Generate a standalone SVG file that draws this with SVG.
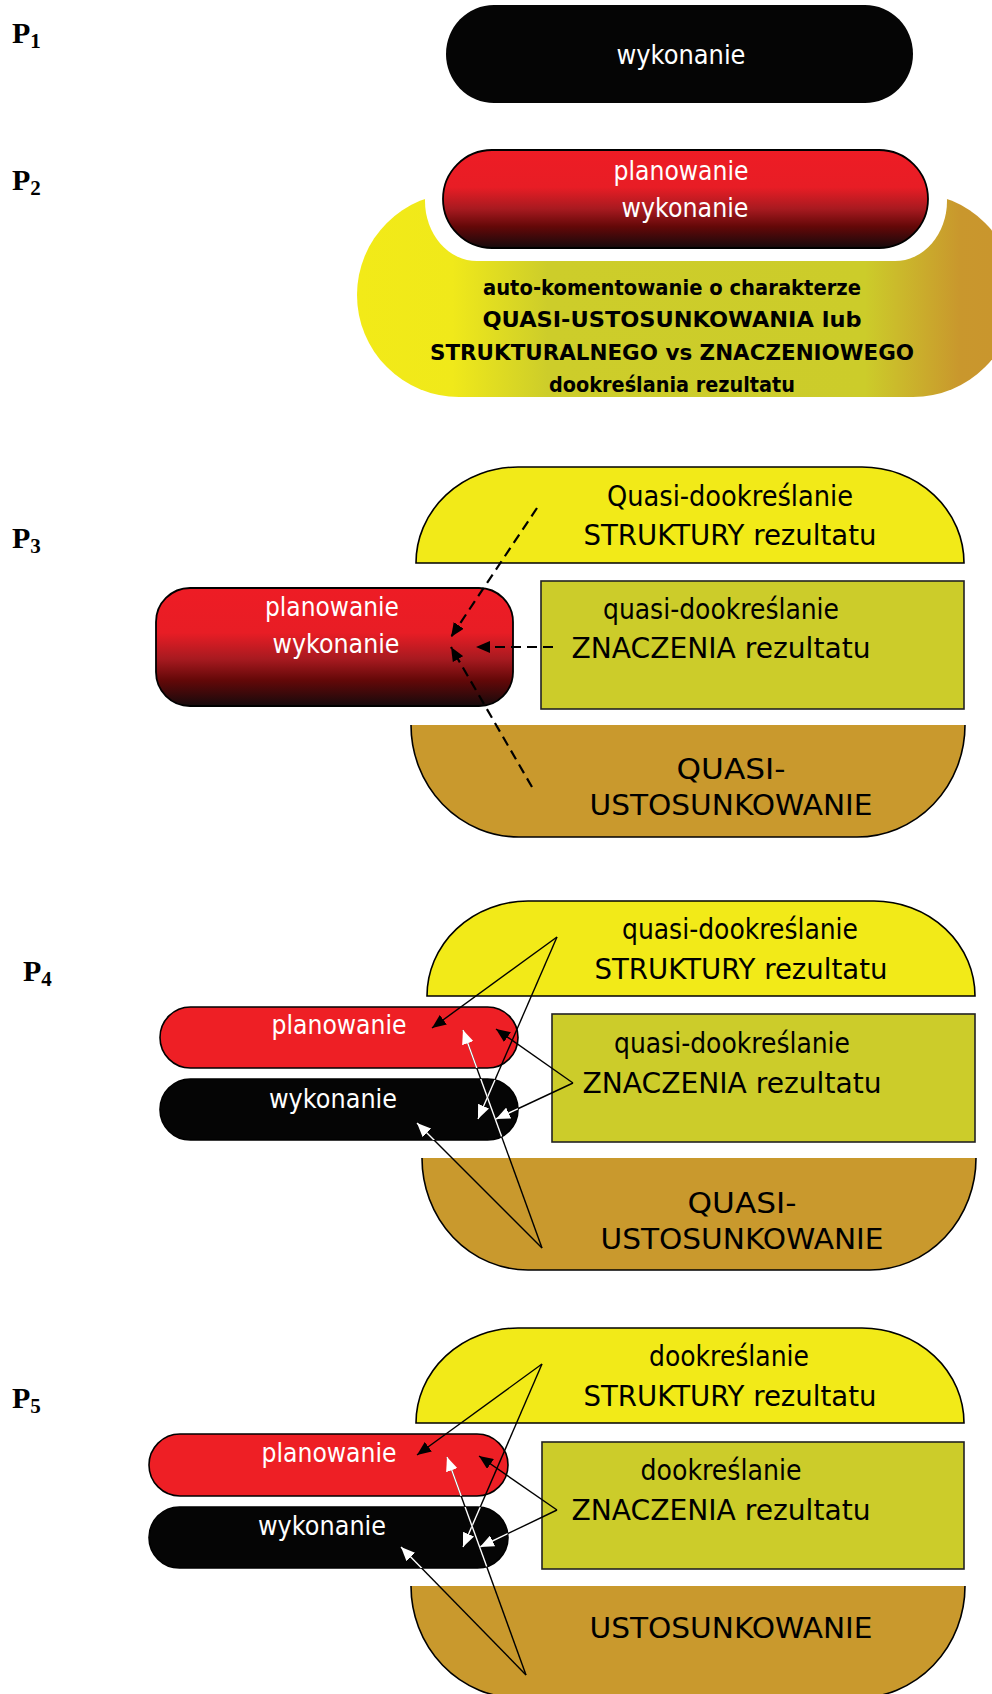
<svg xmlns="http://www.w3.org/2000/svg" width="992" height="1694" viewBox="0 0 992 1694">
  <style>
    .lbl { font-family: "Liberation Serif", "Times New Roman", serif; font-weight: bold; fill: #000; }
    .t { font-family: "DejaVu Sans", "Noto Sans", sans-serif; text-anchor: middle; }
    .tw { fill: #fff; font-size: 26px; }
    .tb { fill: #000; font-size: 28px; }
    .tbold { fill: #000; font-size: 21.5px; font-weight: bold; }
    .yel { fill: #f2ea18; stroke: #000; stroke-width: 1.6; }
    .olv { fill: #cccc2a; stroke: #222; stroke-width: 1.6; }
    .gld { fill: #c9992d; }
    .gldline { fill: none; stroke: #000; stroke-width: 1.6; }
    .redg { fill: url(#redFade); stroke: #000; stroke-width: 1.8; }
    .red { fill: #ee1f25; stroke: #000; stroke-width: 1.6; }
    .blk { fill: #050505; stroke: #000; stroke-width: 1.6; }
    .dash { fill: none; stroke: #000; stroke-width: 2.2; stroke-dasharray: 10 6; marker-end: url(#headBlack); }
    .ln { fill: none; stroke: #000; stroke-width: 1.4; }
    .lnw { fill: none; stroke: #fff; stroke-width: 1.4; }
    .hb { marker-end: url(#headBlack); }
    .hw { marker-end: url(#headWhite); }
  </style>
  <defs>
    <linearGradient id="redFade" x1="0" y1="0" x2="0" y2="1">
      <stop offset="0" stop-color="#ee1c25"/>
      <stop offset="0.38" stop-color="#e81d25"/>
      <stop offset="0.6" stop-color="#a81a20"/>
      <stop offset="0.78" stop-color="#640808"/>
      <stop offset="1" stop-color="#160a0c"/>
    </linearGradient>
    <linearGradient id="blobFade" gradientUnits="userSpaceOnUse" x1="357" y1="0" x2="992" y2="0">
      <stop offset="0" stop-color="#f2ea18"/>
      <stop offset="0.15" stop-color="#f0e91a"/>
      <stop offset="0.3" stop-color="#cdcd2a"/>
      <stop offset="0.8" stop-color="#cccc2a"/>
      <stop offset="0.95" stop-color="#c9972d"/>
      <stop offset="1" stop-color="#c9962d"/>
    </linearGradient>
    <marker id="headBlack" markerUnits="userSpaceOnUse" markerWidth="15" markerHeight="12" refX="14" refY="6" orient="auto">
      <path d="M0,0 L14,6 L0,12 Z" fill="#000"/>
    </marker>
    <marker id="headWhite" markerUnits="userSpaceOnUse" markerWidth="15" markerHeight="12" refX="14" refY="6" orient="auto">
      <path d="M0,0 L14,6 L0,12 Z" fill="#fff"/>
    </marker>
    <clipPath id="clipBlack4"><rect x="160" y="1079" width="358" height="61" rx="30.5"/></clipPath>
    <clipPath id="clipBoth4"><rect x="160" y="1079" width="358" height="61" rx="30.5"/><rect x="160" y="1007" width="358" height="61" rx="30.5"/></clipPath>
    <clipPath id="clipBlack5"><rect x="149" y="1507" width="359" height="61" rx="30.5"/></clipPath>
    <clipPath id="clipBoth5"><rect x="149" y="1507" width="359" height="61" rx="30.5"/><rect x="149" y="1434" width="359" height="62" rx="31"/></clipPath>
  </defs>

  <!-- stage labels -->
  <g id="labels">
    <text class="lbl" x="12" y="43" font-size="30">P<tspan font-size="21" dy="5">1</tspan></text>
    <text class="lbl" x="12" y="190" font-size="30">P<tspan font-size="21" dy="5">2</tspan></text>
    <text class="lbl" x="12" y="548" font-size="30">P<tspan font-size="21" dy="5">3</tspan></text>
    <text class="lbl" x="23" y="981" font-size="30">P<tspan font-size="21" dy="5">4</tspan></text>
    <text class="lbl" x="12" y="1408" font-size="30">P<tspan font-size="21" dy="5">5</tspan></text>
  </g>

  <!-- P1 -->
  <g id="p1-wykonanie">
    <rect x="446" y="5" width="467" height="98" rx="48" ry="49" fill="#050505"/>
    <text class="t tw" x="681" y="64" textLength="129" lengthAdjust="spacingAndGlyphs">wykonanie</text>
  </g>

  <!-- P2 -->
  <g id="p2-komentowanie">
    <g fill="url(#blobFade)">
      <ellipse cx="459" cy="295" rx="102" ry="102"/>
      <ellipse cx="913" cy="295" rx="102" ry="102"/>
      <rect x="459" y="220" width="454" height="177"/>
    </g>
    <rect x="425" y="140" width="522" height="121" rx="52" ry="60" fill="#fff"/>
    <text class="t tbold" x="672" y="295" textLength="378" lengthAdjust="spacingAndGlyphs">auto-komentowanie o charakterze</text>
    <text class="t tbold" x="672" y="327" textLength="379" lengthAdjust="spacingAndGlyphs">QUASI-USTOSUNKOWANIA lub</text>
    <text class="t tbold" x="672" y="360" textLength="484" lengthAdjust="spacingAndGlyphs">STRUKTURALNEGO vs ZNACZENIOWEGO</text>
    <text class="t tbold" x="672" y="392" textLength="246" lengthAdjust="spacingAndGlyphs">dookreślania rezultatu</text>
  </g>
  <g id="p2-planowanie-wykonanie">
    <rect class="redg" x="443" y="150" width="485" height="98" rx="49" ry="49"/>
    <text class="t tw" x="681" y="180" textLength="135" lengthAdjust="spacingAndGlyphs">planowanie</text>
    <text class="t tw" x="685" y="217" textLength="127" lengthAdjust="spacingAndGlyphs">wykonanie</text>
  </g>

  <!-- P3 -->
  <g id="p3-struktura">
    <path class="yel" d="M416,563 A102,96 0 0 1 518,467 L862,467 A102,96 0 0 1 964,563 Z"/>
    <text class="t tb" x="730" y="506" textLength="246" lengthAdjust="spacingAndGlyphs">Quasi-dookreślanie</text>
    <text class="t tb" x="730" y="545" textLength="293" lengthAdjust="spacingAndGlyphs">STRUKTURY rezultatu</text>
  </g>
  <g id="p3-znaczenie">
    <rect class="olv" x="541" y="581" width="423" height="128"/>
    <text class="t tb" x="721" y="619" textLength="236" lengthAdjust="spacingAndGlyphs">quasi-dookreślanie</text>
    <text class="t tb" x="721" y="658" textLength="299" lengthAdjust="spacingAndGlyphs">ZNACZENIA rezultatu</text>
  </g>
  <g id="p3-ustosunkowanie">
    <path class="gld" d="M411,725 A108,112 0 0 0 519,837 L857,837 A108,112 0 0 0 965,725 Z"/>
    <path class="gldline" d="M411,725 A108,112 0 0 0 519,837 L857,837 A108,112 0 0 0 965,725"/>
    <text class="t tb" x="731" y="779" textLength="109" lengthAdjust="spacingAndGlyphs">QUASI-</text>
    <text class="t tb" x="731" y="815" textLength="283" lengthAdjust="spacingAndGlyphs">USTOSUNKOWANIE</text>
  </g>
  <g id="p3-planowanie-wykonanie">
    <rect class="redg" x="156" y="588" width="357" height="118" rx="34" ry="34"/>
    <text class="t tw" x="332" y="616" textLength="134" lengthAdjust="spacingAndGlyphs">planowanie</text>
    <text class="t tw" x="336" y="653" textLength="127" lengthAdjust="spacingAndGlyphs">wykonanie</text>
  </g>

  <!-- P4 -->
  <g id="p4-struktura">
    <path class="yel" d="M427,996 A101,95 0 0 1 528,901 L874,901 A101,95 0 0 1 975,996 Z"/>
    <text class="t tb" x="740" y="939" textLength="236" lengthAdjust="spacingAndGlyphs">quasi-dookreślanie</text>
    <text class="t tb" x="741" y="979" textLength="293" lengthAdjust="spacingAndGlyphs">STRUKTURY rezultatu</text>
  </g>
  <g id="p4-znaczenie">
    <rect class="olv" x="552" y="1014" width="423" height="128"/>
    <text class="t tb" x="732" y="1053" textLength="236" lengthAdjust="spacingAndGlyphs">quasi-dookreślanie</text>
    <text class="t tb" x="732" y="1093" textLength="299" lengthAdjust="spacingAndGlyphs">ZNACZENIA rezultatu</text>
  </g>
  <g id="p4-ustosunkowanie">
    <path class="gld" d="M422,1158 A106,112 0 0 0 528,1270 L870,1270 A106,112 0 0 0 976,1158 Z"/>
    <path class="gldline" d="M422,1158 A106,112 0 0 0 528,1270 L870,1270 A106,112 0 0 0 976,1158"/>
    <text class="t tb" x="742" y="1213" textLength="109" lengthAdjust="spacingAndGlyphs">QUASI-</text>
    <text class="t tb" x="742" y="1249" textLength="283" lengthAdjust="spacingAndGlyphs">USTOSUNKOWANIE</text>
  </g>
  <g id="p4-planowanie">
    <rect class="red" x="160" y="1007" width="358" height="61" rx="30.5"/>
    <text class="t tw" x="339" y="1034" textLength="135" lengthAdjust="spacingAndGlyphs">planowanie</text>
  </g>
  <g id="p4-wykonanie">
    <rect class="blk" x="160" y="1079" width="358" height="61" rx="30.5"/>
    <text class="t tw" x="333" y="1108" textLength="128" lengthAdjust="spacingAndGlyphs">wykonanie</text>
  </g>

  <!-- P5 -->
  <g id="p5-struktura">
    <path class="yel" d="M416,1423 A102,95 0 0 1 518,1328 L862,1328 A102,95 0 0 1 964,1423 Z"/>
    <text class="t tb" x="729" y="1366" textLength="160" lengthAdjust="spacingAndGlyphs">dookreślanie</text>
    <text class="t tb" x="730" y="1406" textLength="293" lengthAdjust="spacingAndGlyphs">STRUKTURY rezultatu</text>
  </g>
  <g id="p5-znaczenie">
    <rect class="olv" x="542" y="1442" width="422" height="127"/>
    <text class="t tb" x="721" y="1480" textLength="161" lengthAdjust="spacingAndGlyphs">dookreślanie</text>
    <text class="t tb" x="721" y="1520" textLength="299" lengthAdjust="spacingAndGlyphs">ZNACZENIA rezultatu</text>
  </g>
  <g id="p5-ustosunkowanie">
    <path class="gld" d="M411,1586 A108,112 0 0 0 519,1698 L857,1698 A108,112 0 0 0 965,1586 Z"/>
    <path class="gldline" d="M411,1586 A108,112 0 0 0 519,1698 L857,1698 A108,112 0 0 0 965,1586"/>
    <text class="t tb" x="731" y="1638" textLength="283" lengthAdjust="spacingAndGlyphs">USTOSUNKOWANIE</text>
  </g>
  <g id="p5-planowanie">
    <rect class="red" x="149" y="1434" width="359" height="62" rx="31"/>
    <text class="t tw" x="329" y="1462" textLength="135" lengthAdjust="spacingAndGlyphs">planowanie</text>
  </g>
  <g id="p5-wykonanie">
    <rect class="blk" x="149" y="1507" width="359" height="61" rx="30.5"/>
    <text class="t tw" x="322" y="1535" textLength="128" lengthAdjust="spacingAndGlyphs">wykonanie</text>
  </g>

  <!-- connectors -->
  <g id="connectors">
    <!-- P3: dashed influences -->
    <path class="dash" d="M537,508 L451,637"/>
    <path class="dash" d="M553,647 L476,647"/>
    <path class="dash" d="M532,787 L451,647"/>

    <!-- P4 -->
    <path class="ln hb" d="M557,937 L432,1028"/>
    <path class="ln hw" d="M557,937 L478,1119"/>
    <path class="lnw" d="M557,937 L478,1119" clip-path="url(#clipBlack4)"/>
    <path class="ln hb" d="M573,1083 L496,1029"/>
    <path class="ln hw" d="M573,1083 L496,1119"/>
    <path class="lnw" d="M573,1083 L496,1119" clip-path="url(#clipBlack4)"/>
    <path class="ln hw" d="M542,1248 L417,1123"/>
    <path class="lnw" d="M542,1248 L417,1123" clip-path="url(#clipBlack4)"/>
    <path class="ln hw" d="M542,1248 L463,1030"/>
    <path class="lnw" d="M542,1248 L463,1030" clip-path="url(#clipBoth4)"/>

    <!-- P5 -->
    <path class="ln hb" d="M542,1364 L417,1455"/>
    <path class="ln hw" d="M542,1364 L463,1547"/>
    <path class="lnw" d="M542,1364 L463,1547" clip-path="url(#clipBlack5)"/>
    <path class="ln hb" d="M557,1510 L479,1456"/>
    <path class="ln hw" d="M557,1510 L480,1547"/>
    <path class="lnw" d="M557,1510 L480,1547" clip-path="url(#clipBlack5)"/>
    <path class="ln hw" d="M526,1675 L401,1547"/>
    <path class="lnw" d="M526,1675 L401,1547" clip-path="url(#clipBlack5)"/>
    <path class="ln hw" d="M526,1675 L447,1457"/>
    <path class="lnw" d="M526,1675 L447,1457" clip-path="url(#clipBoth5)"/>
  </g>
</svg>
